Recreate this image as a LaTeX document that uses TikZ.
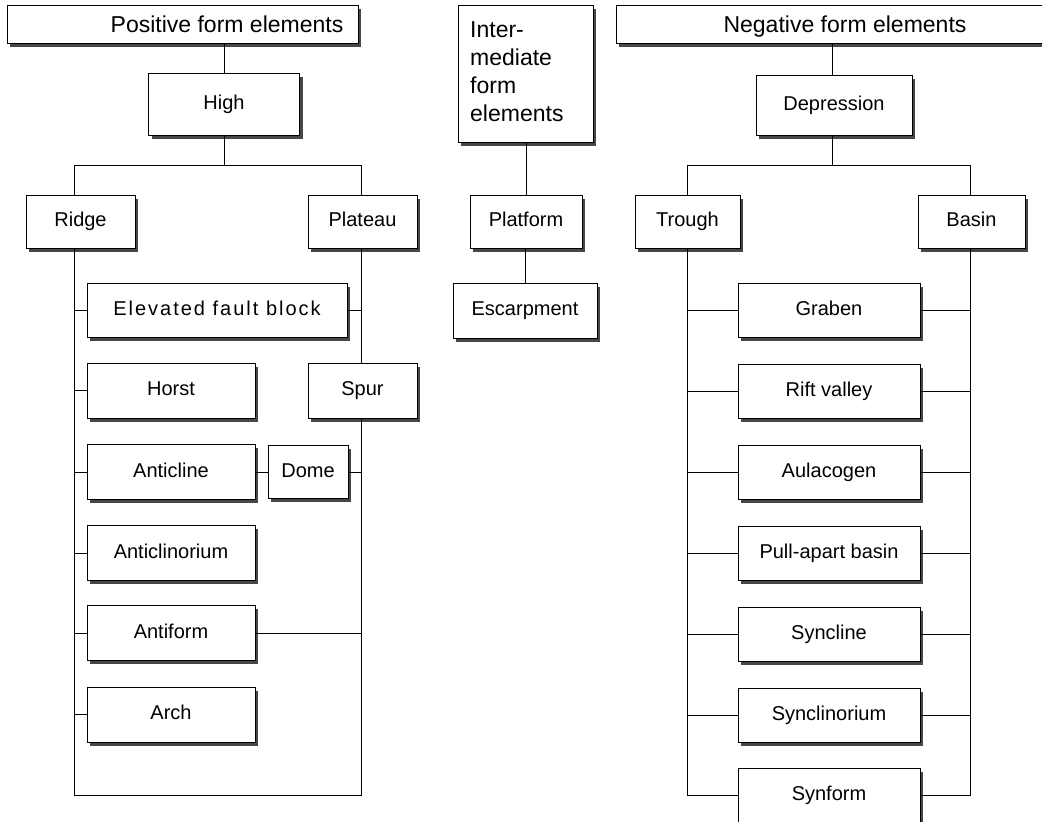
\documentclass[tikz,border=0pt]{standalone}
\usepackage{fontspec}
\setmainfont{Liberation Sans}
\newfontfamily\spacedfont[LetterSpace=10]{Liberation Sans}
\usetikzlibrary{shadows}

\tikzset{
  framebox/.style={draw, line width=0.8pt, fill=white, rectangle, inner sep=0pt,
    general shadow={fill=black!72, shadow xshift=3pt, shadow yshift=-3.5pt}},
  formbox/.style={framebox, font=\fontsize{20}{24}\selectfont,
    text height=13pt, text depth=3pt},
  headtext/.style={inner sep=0pt, font=\fontsize{23}{27.5}\selectfont,
    text height=17pt, text depth=0pt},
  link/.style={line width=0.8pt},
  item/.style={formbox, minimum width=168pt, minimum height=55pt},
  ritem/.style={formbox, minimum width=182pt, minimum height=54pt}
}

\begin{document}
\begin{tikzpicture}[x=1pt,y=-1pt]
\useasboundingbox (0,0) rectangle (1042,822);

% ---------- positive form elements ----------
\node[framebox, minimum width=351pt, minimum height=38pt] (posH) at (182.5,24) {};
\node[headtext] (posT) at (227,24) {Positive form elements};
\node[formbox, minimum width=151pt, minimum height=62pt] (high) at (224,104) {High};
\node[formbox, minimum width=109pt, minimum height=53pt] (ridge) at (80.5,221.5) {Ridge};
\node[formbox, minimum width=109pt, minimum height=53pt] (plateau) at (362.5,221.5) {Plateau};
\node[formbox, minimum width=260pt, minimum height=54pt, font=\fontsize{20}{24}\spacedfont] (efb) at (217,310) {Elevated fault block};
\node[item] (horst) at (171,390.5) {Horst};
\node[formbox, minimum width=109pt, minimum height=55pt] (spur) at (362.5,390.5) {Spur};
\node[item] (anticline) at (171,472) {Anticline};
\node[formbox, minimum width=80pt, minimum height=53pt] (dome) at (308,472) {Dome};
\node[item] (anticlinorium) at (171,553) {Anticlinorium};
\node[item] (antiform) at (171,633) {Antiform};
\node[item] (arch) at (171,714.5) {Arch};

\coordinate (lx) at (74,0);
\coordinate (px) at (361,0);
\coordinate (hb) at (224,165);
\coordinate (lb) at (0,795);

\draw[link] (high.north) -- (high.north |- posH.south);
\draw[link] (high.south) -- (high.south |- hb);
\draw[link] (ridge.north -| lx) -- (lx |- hb) -- (px |- hb) -- (plateau.north -| px);
\draw[link] (ridge.south -| lx) -- (lx |- lb) -- (px |- lb) -- (spur.south -| px);
\draw[link] (plateau.south -| px) -- (spur.north -| px);
\foreach \n in {efb,horst,anticline,anticlinorium,antiform,arch}
  \draw[link] (\n.west) -- (\n.west -| lx);
\draw[link] (efb.east) -- (efb.east -| px);
\draw[link] (anticline.east) -- (dome.west);
\draw[link] (dome.east) -- (dome.east -| px);
\draw[link] (antiform.east) -- (antiform.east -| px);

% ---------- intermediate form elements ----------
\node[framebox, minimum width=135pt, minimum height=137pt] (inter) at (525.5,73.5) {};
\node[inner sep=0pt, anchor=north west, align=left, font=\fontsize{23}{28}\selectfont]
  (interT) at (470,21) {Inter-\\mediate\\form\\elements};
\node[formbox, minimum width=112pt, minimum height=53pt] (platform) at (526,221.5) {Platform};
\node[formbox, minimum width=144pt, minimum height=55pt] (escarpment) at (525,310.5) {Escarpment};
\draw[link] (platform.north) -- (platform.north |- inter.south);
\draw[link] (escarpment.north) -- (escarpment.north |- platform.south);

% ---------- negative form elements ----------
\node[framebox, minimum width=430pt, minimum height=38pt] (negH) at (831,24) {};
\node[headtext] (negT) at (845,24) {Negative form elements};
\node[formbox, minimum width=156pt, minimum height=60pt] (depression) at (834,105) {Depression};
\node[formbox, minimum width=105pt, minimum height=53pt] (trough) at (687.5,221.5) {Trough};
\node[formbox, minimum width=107pt, minimum height=53pt] (basin) at (971.5,221.5) {Basin};
\node[ritem] (graben) at (829,310) {Graben};
\node[ritem] (rift) at (829,391) {Rift valley};
\node[ritem] (aulacogen) at (829,472) {Aulacogen};
\node[ritem] (pullapart) at (829,553) {Pull-apart basin};
\node[ritem] (syncline) at (829,634) {Syncline};
\node[ritem] (synclinorium) at (829,715) {Synclinorium};
\node[ritem] (synform) at (829,795) {Synform};

\coordinate (tx) at (687,0);
\coordinate (bx) at (970,0);
\coordinate (db) at (832,165);

\draw[link] (depression.north -| db) -- (db |- negH.south);
\draw[link] (depression.south -| db) -- (db);
\draw[link] (trough.north -| tx) -- (tx |- db) -- (bx |- db) -- (basin.north -| bx);
\draw[link] (trough.south -| tx) -- (tx |- synform.west) -- (synform.west);
\draw[link] (basin.south -| bx) -- (bx |- synform.east) -- (synform.east);
\foreach \n in {graben,rift,aulacogen,pullapart,syncline,synclinorium}{
  \draw[link] (\n.west) -- (\n.west -| tx);
  \draw[link] (\n.east) -- (\n.east -| bx);
}
\end{tikzpicture}
\end{document}
